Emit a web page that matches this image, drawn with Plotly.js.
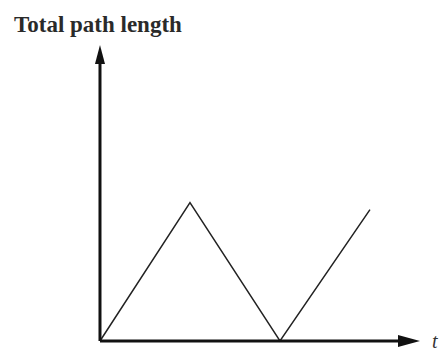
<!DOCTYPE html>
<html>
<head>
<meta charset="utf-8">
<script src="https://cdn.plot.ly/plotly-3.0.1.min.js"></script>
<style>
  html, body { margin: 0; padding: 0; background: #fff; }
  #chart { width: 440px; height: 349px; }
</style>
</head>
<body>
<div id="chart"></div>
<script>
// time steps and total path length (relative units)
var timeSteps = [0, 1, 2, 3];
var pathLength = [0, 1, 0, 0.95];

// where the axis arrows end
var xTip = 3.556;
var yTip = 2.14;

var trace = {
  x: timeSteps,
  y: pathLength,
  mode: 'lines',
  line: {color: '#222', width: 1.5},
  hoverinfo: 'skip'
};

var axisColor = '#111';

var layout = {
  width: 440,
  height: 349,
  margin: {l: 90, r: 10, t: 40, b: 0},
  paper_bgcolor: '#fff',
  plot_bgcolor: '#fff',
  showlegend: false,
  title: {
    text: 'Total path length',
    font: {family: 'Liberation Serif', size: 23, color: '#2a2a2a', weight: 'bold'},
    xref: 'container', yref: 'container',
    x: 14 / 440, xanchor: 'left',
    y: 1 - 24 / 349, yanchor: 'middle'
  },
  xaxis: {range: [-0.111, 3.667], visible: false, fixedrange: true},
  yaxis: {range: [-0.0578, 2.176], visible: false, fixedrange: true},
  shapes: [
    // x axis
    {type: 'line', xref: 'x', yref: 'y', x0: 0, y0: 0, x1: xTip - 0.1, y1: 0,
     line: {color: axisColor, width: 3}},
    // y axis
    {type: 'line', xref: 'x', yref: 'y', x0: 0, y0: 0, x1: 0, y1: yTip - 0.1,
     line: {color: axisColor, width: 3}},
    // arrowheads
    {type: 'path', xref: 'x', yref: 'y', xsizemode: 'pixel', ysizemode: 'pixel',
     xanchor: xTip, yanchor: 0, path: 'M0,0 L-22,6 L-22,-6 Z',
     fillcolor: axisColor, line: {width: 0}},
    {type: 'path', xref: 'x', yref: 'y', xsizemode: 'pixel', ysizemode: 'pixel',
     xanchor: 0, yanchor: yTip, path: 'M0,0 L-5,-19 L5,-19 Z',
     fillcolor: axisColor, line: {width: 0}}
  ],
  annotations: [
    {text: '<i>t</i>', xref: 'paper', yref: 'paper',
     x: 1.0, y: 0.025, xanchor: 'left', yanchor: 'middle', showarrow: false,
     font: {family: 'Liberation Serif', size: 20, color: '#333'}}
  ]
};

Plotly.newPlot('chart', [trace], layout, {displayModeBar: false, staticPlot: true});
</script>
</body>
</html>
